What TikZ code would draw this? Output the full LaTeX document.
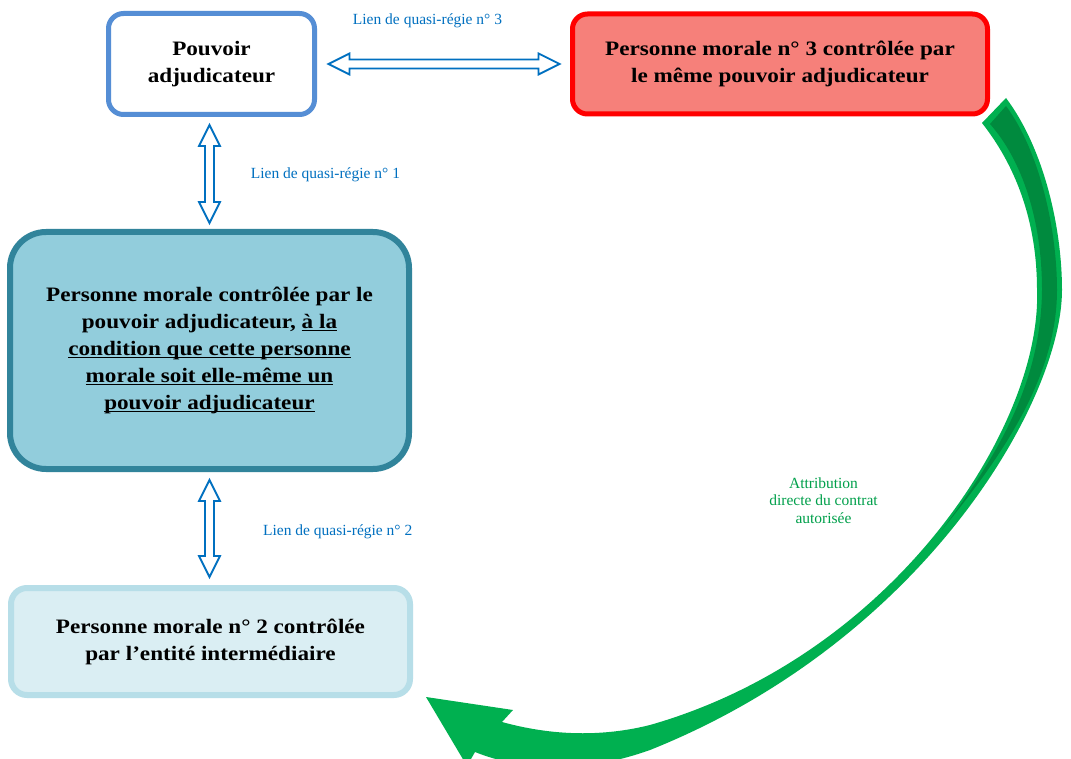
\documentclass[tikz,border=0pt]{standalone}
\usepackage{fontspec}
\setmainfont{Liberation Serif}
\newfontfamily\boxfont[FakeStretch=1.13]{Liberation Serif}
\usetikzlibrary{positioning,calc}

\newsavebox\ulbox
\newcommand\ulin[1]{\sbox\ulbox{#1}\rlap{\rule[-2.6pt]{\wd\ulbox}{1.3pt}}\usebox\ulbox}

% outlined double arrow between two named points
\newcommand\quasilink[2]{%
\draw[quasi] (#1)
	-- ($($(#1)!21pt!(#2)$)!10.5pt!90:(#2)$)
	-- ($($(#1)!21pt!(#2)$)!4.5pt!90:(#2)$)
	-- ($($(#2)!21pt!(#1)$)!4.5pt!-90:(#1)$)
	-- ($($(#2)!21pt!(#1)$)!10.5pt!-90:(#1)$)
	-- (#2)
	-- ($($(#2)!21pt!(#1)$)!10.5pt!90:(#1)$)
	-- ($($(#2)!21pt!(#1)$)!4.5pt!90:(#1)$)
	-- ($($(#1)!21pt!(#2)$)!4.5pt!-90:(#2)$)
	-- ($($(#1)!21pt!(#2)$)!10.5pt!-90:(#2)$)
	-- cycle;}

\begin{document}
\begin{tikzpicture}[x=1pt,y=-1pt,
	box/.style={rounded corners=15pt,line width=5pt,align=center,inner sep=0pt,
		font=\boxfont\bfseries\fontsize{20.5}{27}\selectfont},
	quasi/.style={draw=linkColor,fill=white,line width=1.8pt,line join=miter},
	quasilabel/.style={text=linkColor,inner sep=0pt,font=\fontsize{15.5}{18}\selectfont},
	attrib/.style={fill=greenLight},
	attribdark/.style={fill=greenDark}]
\definecolor{paColor}{RGB}{85,142,213}
\definecolor{pm3Fill}{RGB}{246,128,122}
\definecolor{pmFill}{RGB}{146,205,220}
\definecolor{pmBorder}{RGB}{49,132,155}
\definecolor{pm2Fill}{RGB}{218,238,243}
\definecolor{pm2Border}{RGB}{183,222,232}
\definecolor{linkColor}{RGB}{0,112,192}
\definecolor{greenLight}{RGB}{0,176,80}
\definecolor{greenDark}{RGB}{0,138,62}
\definecolor{greenText}{RGB}{0,160,75}
\path[use as bounding box,fill=white] (0,0) rectangle (1071,759);

\node[box,draw=paColor,fill=white,minimum width=206pt,minimum height=101pt] (pa) at (211.5,64) {Pouvoir\\adjudicateur};

\node[box,draw=red,fill=pm3Fill,minimum width=415pt,minimum height=100pt] (pm3) at (780,64) {Personne morale n° 3 contrôlée par\\le même pouvoir adjudicateur};

\node[box,rounded corners=36pt,line width=6pt,draw=pmBorder,fill=pmFill,minimum width=399pt,minimum height=237pt] (pm) at (209.5,350.5) {Personne morale contrôlée par le\\pouvoir adjudicateur, \ulin{à la}\\\ulin{condition que cette personne}\\\ulin{morale soit elle-même un}\\\ulin{pouvoir adjudicateur}};

\node[box,rounded corners=16pt,line width=6pt,draw=pm2Border,fill=pm2Fill,minimum width=399pt,minimum height=107pt] (pm2) at (210.5,641.5) {Personne morale n° 2 contrôlée\\par l’entité intermédiaire};

% quasi-regie links
\coordinate (q1a) at ($(pa.south -| pm.north)+(0,8)$);
\coordinate (q1b) at ($(pm.north)+(0,-6)$);
\coordinate (q2a) at ($(pm.south)+(0,8)$);
\coordinate (q2b) at ($(pm2.north -| pm.south)+(0,-8)$);
\coordinate (q3a) at ($(pa.east)+(11.5,0)$);
\coordinate (q3b) at ($(pm3.west)+(-10.5,0)$);
\quasilink{q1a}{q1b}
\quasilink{q2a}{q2b}
\quasilink{q3a}{q3b}

\node[quasilabel,anchor=base west] (l1) at (250.7,179) {Lien de quasi-régie n° 1};
\node[quasilabel,anchor=base west] (l2) at (263,535.7) {Lien de quasi-régie n° 2};
\node[quasilabel,anchor=base] (l3) at (427.5,25) {Lien de quasi-régie n° 3};

% curved arrow
\fill[attrib] (982,123) -- (1006,98)
	.. controls (1045,150) and (1062,230) .. (1062,290)
	.. controls (1062,400) and (925,640) .. (650,750)
	.. controls (580,775) and (520,770) .. (475,752)
	-- (467,766) -- (426,697) -- (513,710) -- (502,722)
	.. controls (560,738) and (610,735) .. (650,725)
	.. controls (895,655) and (1042,425) .. (1037,290)
	.. controls (1037,220) and (1015,165) .. (982,123) -- cycle;
\fill[attribdark] (990,124) -- (1006,106)
	.. controls (1040,152) and (1057,230) .. (1057,290)
	.. controls (1057,385) and (990,470) .. (942,530)
	.. controls (990,465) and (1041,390) .. (1042,290)
	.. controls (1042,220) and (1022,160) .. (990,124) -- cycle;

\node[text=greenText,align=center,inner sep=0pt,font=\fontsize{15.5}{17.5}\selectfont] (attr) at (823.5,500.6) {Attribution\\directe du contrat\\autorisée};
\end{tikzpicture}
\end{document}
